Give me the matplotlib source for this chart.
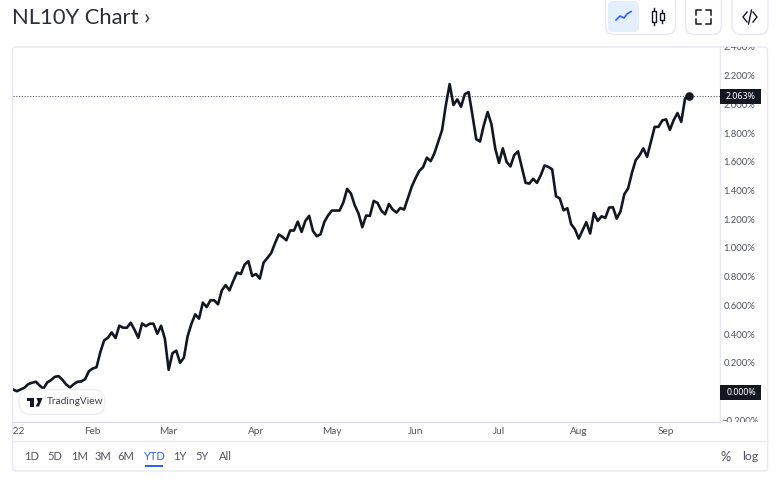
import matplotlib
matplotlib.use("Agg")
import matplotlib.pyplot as plt
import pandas as pd
from matplotlib.patches import FancyBboxPatch, Rectangle, Polygon

plt.rcParams["font.family"] = ["Lato", "DejaVu Sans"]

# ---- Data ----
yields = [
    0.021, 0.009, 0.021, 0.033, 0.058, 0.068, 0.075, 0.049, 0.026, 0.070,
    0.086, 0.109, 0.114, 0.089, 0.056, 0.035, 0.058, 0.075, 0.077, 0.093,
    0.149, 0.167, 0.176, 0.281, 0.363, 0.381, 0.418, 0.379, 0.465, 0.451,
    0.451, 0.486, 0.437, 0.381, 0.481, 0.462, 0.479, 0.479, 0.409, 0.465,
    0.374, 0.158, 0.274, 0.291, 0.207, 0.242, 0.393, 0.479, 0.544, 0.514,
    0.626, 0.595, 0.642, 0.642, 0.614, 0.711, 0.748, 0.711, 0.776, 0.835,
    0.825, 0.891, 0.914, 0.811, 0.825, 0.793, 0.905, 0.937, 0.971, 1.039,
    1.100, 1.083, 1.060, 1.128, 1.128, 1.190, 1.118, 1.195, 1.230, 1.125,
    1.088, 1.102, 1.188, 1.234, 1.267, 1.267, 1.267, 1.323, 1.418, 1.386,
    1.304, 1.246, 1.151, 1.232, 1.230, 1.334, 1.320, 1.267, 1.241, 1.313,
    1.274, 1.253, 1.285, 1.274, 1.353, 1.432, 1.492, 1.543, 1.569, 1.635,
    1.611, 1.667, 1.746, 1.827, 2.002, 2.148, 2.002, 2.041, 1.990, 2.078,
    2.092, 1.932, 1.764, 1.748, 1.862, 1.953, 1.869, 1.700, 1.599, 1.700,
    1.606, 1.574, 1.653, 1.679, 1.571, 1.460, 1.455, 1.488, 1.460, 1.513,
    1.581, 1.571, 1.554, 1.367, 1.351, 1.269, 1.283, 1.172, 1.137, 1.072,
    1.130, 1.186, 1.107, 1.250, 1.195, 1.227, 1.216, 1.288, 1.290, 1.211,
    1.262, 1.381, 1.421, 1.529, 1.618, 1.651, 1.700, 1.641, 1.744, 1.850,
    1.850, 1.895, 1.902, 1.829, 1.897, 1.946, 1.885, 2.048, 2.063,
]
# weekdays, with Good Friday left out
dates = pd.bdate_range("2022-01-03", periods=len(yields) + 1).drop(pd.Timestamp("2022-04-15"))
month_starts = ["2022-01-03", "2022-02-01", "2022-03-01", "2022-04-01", "2022-05-02",
                "2022-06-01", "2022-07-01", "2022-08-01", "2022-09-01"]
month_labels = ["2022", "Feb", "Mar", "Apr", "May", "Jun", "Jul", "Aug", "Sep"]
price_ticks = [2.4, 2.2, 2.0, 1.8, 1.6, 1.4, 1.2, 1.0, 0.8, 0.6, 0.4, 0.2, -0.2]
last_value = 2.063
base_value = 0.0
ranges = ["1D", "5D", "1M", "3M", "6M", "YTD", "1Y", "5Y", "All"]
range_x = [31.5, 55, 79, 103, 126, 154, 180, 202, 225]

INK = "#131722"
GREY = "#50535e"
BORDER = "#e8e8f2"
BLUE = "#2962ff"

W, H = 780, 483
Y_LIM = (-0.202, 2.406)
X_LIM = (0, 186.2)


def px_axes(left, top, right, bottom, **kw):
    return fig.add_axes([left / W, 1 - bottom / H, (right - left) / W, (bottom - top) / H], **kw)


fig = plt.figure(figsize=(W / 100, H / 100), dpi=100, facecolor="white")

# ---- Price pane ----
ax = px_axes(13, 47, 720, 421.5)
x = list(range(len(yields)))
ax.plot(x, yields, color=INK, lw=1.9, solid_joinstyle="round", zorder=3)
ax.axhline(last_value, color="#555862", lw=0.8, ls=(0, (1, 1.5)), zorder=2)
ax.plot(x[-1], yields[-1], "o", color=INK, ms=5.2, zorder=4)
ax.set_xlim(X_LIM)
ax.set_ylim(Y_LIM)
ax.axis("off")

# ---- Price scale ----
scale = px_axes(720, 47, 767, 421.5)
scale.set_xlim(720, 767)
scale.set_ylim(Y_LIM)
scale.axis("off")
for t in price_ticks:
    label = f"{t:.3f}%".replace("-", "\u2212")
    scale.text(759 if t < 0 else 755.5, t, label, ha="right", va="center", fontsize=6.8,
               color=GREY, clip_on=True)
for v in (last_value, base_value):
    scale.text(741, v, f"{v:.3f}%", ha="center", va="center", fontsize=6.4, color="white",
               family="Noto Sans", fontweight="bold", zorder=5)
    scale.add_patch(Rectangle((720, v - 7.3 / 143.4), 41, 14.6 / 143.4, fc=INK, ec="none", zorder=4))

# ---- Time scale ----
time_ax = px_axes(13, 422, 720, 441)
time_ax.set_xlim(X_LIM)
time_ax.set_ylim(0, 1)
time_ax.axis("off")
for d, lab in zip(month_starts, month_labels):
    pos = dates.get_loc(pd.Timestamp(d))
    time_ax.text(pos, 0.48, lab, ha="center", va="center", fontsize=7.2, color=GREY, clip_on=True)

# ---- Page furniture, in pixel coordinates ----
ui = fig.add_axes([0, 0, 1, 1], zorder=-1)
ui.set_xlim(0, W)
ui.set_ylim(H, 0)
ui.axis("off")
top_ui = fig.add_axes([0, 0, 1, 1], zorder=10)
top_ui.set_xlim(0, W)
top_ui.set_ylim(H, 0)
top_ui.axis("off")
top_ui.patch.set_alpha(0)


def rbox(target, x0, y0, x1, y1, r, fc="white", ec=BORDER, lw=1.0):
    target.add_patch(FancyBboxPatch((x0 + r, y0 + r), x1 - x0 - 2 * r, y1 - y0 - 2 * r,
                                    boxstyle=f"round,pad={r},rounding_size={r}",
                                    fc=fc, ec=ec, lw=lw))


rbox(ui, 12.5, 47, 767.5, 471, 4)
ui.plot([720, 720], [47, 421.5], color=BORDER, lw=1)
ui.plot([12.5, 767.5], [441, 441], color=BORDER, lw=1)
ui.plot([12.5, 720], [421.5, 421.5], color="#dcdce6", lw=1)

ui.text(12, 17.5, "NL10Y Chart \u203a", fontsize=15.8, color="#2a2e39", va="center", ha="left")

# toolbar buttons
rbox(ui, 605.5, -6, 675.5, 34.5, 9)
rbox(ui, 685.5, -6, 721.5, 34.5, 9)
rbox(ui, 732, -6, 768, 34.5, 9)
rbox(ui, 608, 1, 639, 32, 5, fc="#e3effd", ec="none")
ui.plot([616, 620, 624, 627, 631], [20, 16, 18, 14, 11.5], color=BLUE, lw=1.2)
ui.plot([654, 654], [8, 25], color=INK, lw=1)
ui.plot([662, 662], [10, 23], color=INK, lw=1)
ui.add_patch(Rectangle((652, 11), 4, 11, fc="white", ec=INK, lw=1, zorder=3))
ui.add_patch(Rectangle((660, 13), 4, 7, fc="white", ec=INK, lw=1, zorder=3))
for sx, sy in ((696, 10), (711, 10), (696, 24), (711, 24)):
    hx = 1 if sx < 703 else -1
    hy = 1 if sy < 17 else -1
    ui.plot([sx + hx * 5, sx, sx], [sy, sy, sy + hy * 5], color=INK, lw=1.1)
ui.plot([747, 743, 747], [12, 17, 22], color=INK, lw=1)
ui.plot([753, 757, 753], [12, 17, 22], color=INK, lw=1)
ui.plot([748.5, 751.5], [24, 10], color=INK, lw=1)

# range selector
for lab, rx in zip(ranges, range_x):
    ui.text(rx, 457, lab, ha="center", va="center", fontsize=8,
            color=BLUE if lab == "YTD" else GREY)
ui.add_patch(Rectangle((145, 465), 18, 2, fc=BLUE, ec="none"))
ui.text(726, 457, "%", ha="center", va="center", fontsize=9.2, color=GREY)
ui.text(750, 457, "log", ha="center", va="center", fontsize=8.8, color=GREY)

# TradingView badge
rbox(top_ui, 19, 389.5, 105, 414.5, 12, ec="#eeeef3")
top_ui.add_patch(Rectangle((27, 398), 7, 3.4, fc=INK, ec="none"))
top_ui.add_patch(Rectangle((30.4, 398), 3.6, 8.5, fc=INK, ec="none"))
top_ui.add_patch(Polygon([[36.5, 398], [42.5, 398], [39, 406.5], [35.5, 406.5], [38, 402]], fc=INK, ec="none"))
top_ui.text(47, 402, "TradingView", ha="left", va="center", fontsize=7.3, color="#3a3d47")

fig.savefig("out.png", dpi=100)
